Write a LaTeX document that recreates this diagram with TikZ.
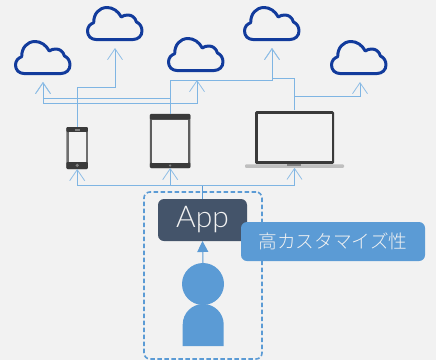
\documentclass[tikz,border=0pt]{standalone}
\usepackage{fontspec}
\usepackage{xcolor}
\usetikzlibrary{arrows.meta, positioning}
\newfontfamily\appfont{Lato Light}
\newfontfamily\jpfont[UprightFont=* Light]{Noto Sans CJK JP}
\definecolor{pagegray}{HTML}{F2F2F2}
\definecolor{linkblue}{HTML}{5B9BD5}
\definecolor{wireblue}{HTML}{7FB5E3}
\definecolor{tipblue}{HTML}{8FBEE6}
\definecolor{cloudblue}{HTML}{123B9C}
\definecolor{appslate}{HTML}{44546A}
\definecolor{devicedark}{HTML}{3A3A3A}
\definecolor{deviceside}{HTML}{6E6E6E}
\tikzset{
  pics/cloudicon/.style={code={
    \draw[cloudblue,line width=3pt,line join=round]
      (10,33.5) -- (47,33.5) .. controls (52,33.5) and (56,30) .. (56,25)
      .. controls (56,21) and (54,17.5) .. (50.5,16)
      .. controls (49,11.5) and (46,9) .. (42,9)
      .. controls (39.5,9) and (37,9.5) .. (35.3,11)
      .. controls (32,5) and (27,1.5) .. (21,1.5)
      .. controls (13,1.5) and (7.5,8) .. (7.7,16.7)
      .. controls (4,18) and (1.5,21) .. (1.5,25)
      .. controls (1.5,30) and (5,33.5) .. (10,33.5) -- cycle;
  }}
}
\begin{document}
\begin{tikzpicture}[x=1pt,y=-1pt,inner sep=0pt,outer sep=0pt]
    \tikzstyle{wire}=[draw=wireblue,line width=1pt,-{Straight Barb[length=11pt,width=15pt,line width=0.8pt,color=tipblue]}]
    \tikzstyle{wireplain}=[draw=wireblue,line width=1pt]
    \tikzstyle{device}=[draw=none,fill=devicedark,rounded corners=1.5pt]
    \tikzstyle{screen}=[fill=pagegray]
    \useasboundingbox (0,0) rectangle (436,360);
    \fill[pagegray] (0,0) rectangle (436,360);

    \pic (cloudA) at (14,40) {cloudicon};
    \pic (cloudB) at (86,6) {cloudicon};
    \pic (cloudC) at (167,37) {cloudicon};
    \pic (cloudD) at (243,6) {cloudicon};
    \pic (cloudE) at (330,40) {cloudicon};

    \coordinate (tipA) at (43,82);
    \coordinate (tipB) at (115,48);
    \coordinate (tipC) at (197,80);
    \coordinate (tipD) at (272,48);
    \coordinate (tipE) at (360,82);

    \node[device,fill=deviceside,minimum width=21.5pt,minimum height=42pt] (phone) at (77.2,148) {};
    \node[fill=devicedark,minimum width=21.5pt,minimum height=5pt,rounded corners=1pt] (phonetop) at (77.2,129.5) {};
    \node[fill=devicedark,minimum width=21.5pt,minimum height=7pt,rounded corners=1pt] (phonebottom) at (77.2,165.5) {};
    \node[screen,minimum width=17pt,minimum height=30pt] (phonescreen) at (77.2,147) {};
    \node[fill=gray,minimum width=5pt,minimum height=1.5pt] (phonespeaker) at (77.2,130) {};
    \node[fill=gray,circle,minimum size=3.5pt] (phonebutton) at (77.2,165.3) {};

    \node[device,fill=deviceside!70!devicedark,minimum width=40.5pt,minimum height=54pt] (tablet) at (170.2,141) {};
    \node[fill=devicedark,minimum width=40.5pt,minimum height=5.5pt,rounded corners=1pt] (tablettop) at (170.2,116.7) {};
    \node[fill=devicedark,minimum width=40.5pt,minimum height=5.5pt,rounded corners=1pt] (tabletbottom) at (170.2,165.3) {};
    \node[screen,minimum width=35.5pt,minimum height=43.5pt] (tabletscreen) at (170.2,141.3) {};
    \node[fill=gray,circle,minimum size=2.5pt] (tabletbutton) at (170.2,165.5) {};

    \node[device,minimum width=79pt,minimum height=53pt] (laptop) at (294.5,137.5) {};
    \node[screen,minimum width=74pt,minimum height=47pt] (laptopscreen) at (294.5,137.5) {};
    \node[fill=black!25,rounded corners=1pt,minimum width=99pt,minimum height=3.5pt] (laptopbase) at (294.5,166) {};
    \node[fill=gray,minimum width=14pt,minimum height=2pt] (laptopnotch) at (294,164.5) {};

    \node[fill=appslate,rounded corners=6pt,minimum width=89pt,minimum height=42pt,text=pagegray,font=\appfont\fontsize{30}{30}\selectfont] (app) at (202.5,220) {App};

    \node[draw=linkblue,line width=1.6pt,dash pattern=on 4.5pt off 2.5pt,rounded corners=6pt,minimum width=118pt,minimum height=167pt] (group) at (203,275.5) {};

    \node[fill=linkblue,circle,minimum size=42pt] (head) at (203,284) {};
    \fill[linkblue] (182.7,346) -- (182.7,324.5) arc[start angle=180,end angle=0,radius=20.5pt] -- (223.7,346) -- cycle;

    \node[fill=linkblue,rounded corners=6pt,minimum width=184pt,minimum height=39pt,text=pagegray,font=\jpfont\fontsize{18.7}{18.7}\selectfont] (custom) at (333,241.5) {高カスタマイズ性};

    \coordinate (busR) at (294.5,185);
    \coordinate (busL) at (77.2,185);
    \coordinate (busM) at (170.2,185);
    \draw[wireplain,draw=linkblue] (app.north) -- (202.5,185);
    \draw[wireplain] (busL) -- (busR);
    \draw[wire] (busL) -- (phone.south);
    \draw[wire] (busM) -- (tablet.south);
    \draw[wire] (busR) -- (laptopbase.south);

    \draw[wire] (phone.north) |- (115,87) -- (tipB);
    \draw[wire] (77.2,103.5) -| (tipA);
    \draw[wire] (77.2,103.5) -| (tipC);
    \draw[wire] (tablet.north) |- (43,98) -- (tipA);
    \draw[wire] (170.2,114) |- (272,80) -- (tipD);
    \draw[wire] (294.5,110) |- (272,78.5) -- (tipD);
    \draw[wire] (294.5,96) -| (tipE);

    \draw[draw=linkblue,line width=1pt,-{Triangle[length=11pt,width=11pt]}] (head.north) -- (app.south);
\end{tikzpicture}
\end{document}
